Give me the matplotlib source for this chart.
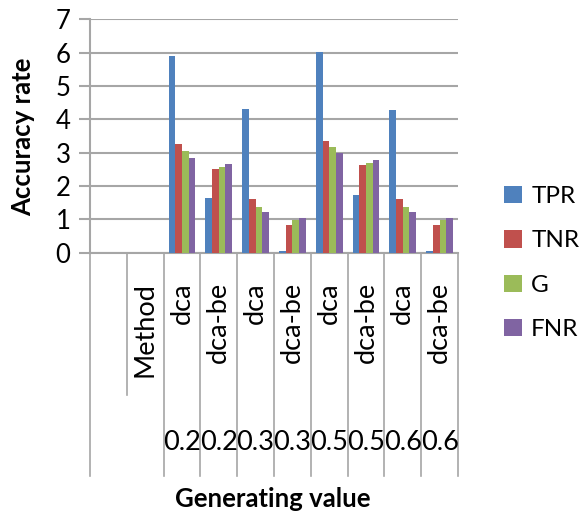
import matplotlib
matplotlib.use("Agg")
import matplotlib.pyplot as plt
import matplotlib.transforms as mtransforms
import numpy as np

plt.rcParams['font.family'] = ['Lato', 'DejaVu Sans']

# Category layout: two leading header columns, then method / generating value pairs
methods = ["dca", "dca-be", "dca", "dca-be", "dca", "dca-be", "dca", "dca-be"]
gen_values = ["0.2", "0.2", "0.3", "0.3", "0.5", "0.5", "0.6", "0.6"]
series_names = ["TPR", "TNR", "G", "FNR"]
tpr = [5.90, 1.63, 4.30, 0.06, 6.03, 1.73, 4.28, 0.06]
tnr = [3.26, 2.50, 1.60, 0.83, 3.35, 2.63, 1.60, 0.83]
g = [3.05, 2.58, 1.38, 0.98, 3.18, 2.70, 1.38, 0.98]
fnr = [2.83, 2.67, 1.22, 1.03, 2.98, 2.78, 1.21, 1.03]
colors = ["#4F81BD", "#C0504D", "#9BBB59", "#8064A2"]
yticks = [0, 1, 2, 3, 4, 5, 6, 7]

W, H = 586, 518
fig = plt.figure(figsize=(W / 100, H / 100), dpi=100)
ax = fig.add_axes([90 / W, 1 - 252.7 / H, (458 - 90) / W, (252.7 - 19.3) / H])

n_lead = 2
n_cat = n_lead + len(methods)
centers = np.arange(len(methods)) + n_lead + 0.5
bw = 0.182
grid_c = "#A6A6A6"

for i, (vals, col, name) in enumerate(zip([tpr, tnr, g, fnr], colors, series_names)):
    ax.bar(centers + (i - 1.5) * bw, vals, width=bw, color=col, label=name, zorder=3)

ax.set_xlim(0, n_cat)
ax.set_ylim(0, 7)
ax.set_yticks(yticks)
ax.yaxis.grid(True, color=grid_c, linewidth=1.5, zorder=0)
ax.tick_params(axis='y', length=8, width=1.5, color=grid_c, pad=6, labelsize=18.5)
ax.set_xticks([])
for side in ["top", "right"]:
    ax.spines[side].set_visible(False)
for side in ["left", "bottom"]:
    ax.spines[side].set_color(grid_c)
    ax.spines[side].set_linewidth(1.5)

# Multi-level category separators below the axis
trans = mtransforms.blended_transform_factory(ax.transData, fig.transFigure)
y_axis_fig = 1 - 252.7 / H
y_long = 1 - 476 / H
y_short = 1 - 395 / H
for k in range(n_cat + 1):
    yb = y_short if k == 1 else y_long
    ax.plot([k, k], [y_axis_fig, yb], transform=trans, color=grid_c,
            linewidth=1.2, clip_on=False)

cat_fs = 19.5
label_top = 1 - 282 / H
ax.text(1.5, label_top, "Method", transform=trans, rotation=90,
        ha='center', va='top', fontsize=cat_fs)
for c, m in zip(centers, methods):
    ax.text(c, label_top, m, transform=trans, rotation=90,
            ha='center', va='top', fontsize=cat_fs)
for c, v in zip(centers, gen_values):
    ax.text(c, 1 - 443 / H, v, transform=trans, ha='center', va='center',
            fontsize=cat_fs)

fig.text(273 / W, 1 - 499 / H, "Generating value", ha='center', va='center',
         fontsize=18.5, fontweight='bold')
fig.text(23 / W, 1 - 137 / H, "Accuracy rate", ha='center', va='center',
         rotation=90, fontsize=18.5, fontweight='bold')

leg = ax.legend(loc='center left', bbox_to_anchor=(504 / W, 1 - 263 / H),
                bbox_transform=fig.transFigure, frameon=False, fontsize=17.5,
                handlelength=0.72, handleheight=0.72, handletextpad=0.4,
                labelspacing=0.95, borderpad=0, borderaxespad=0)

fig.savefig("out.png", dpi=100, facecolor="white")
